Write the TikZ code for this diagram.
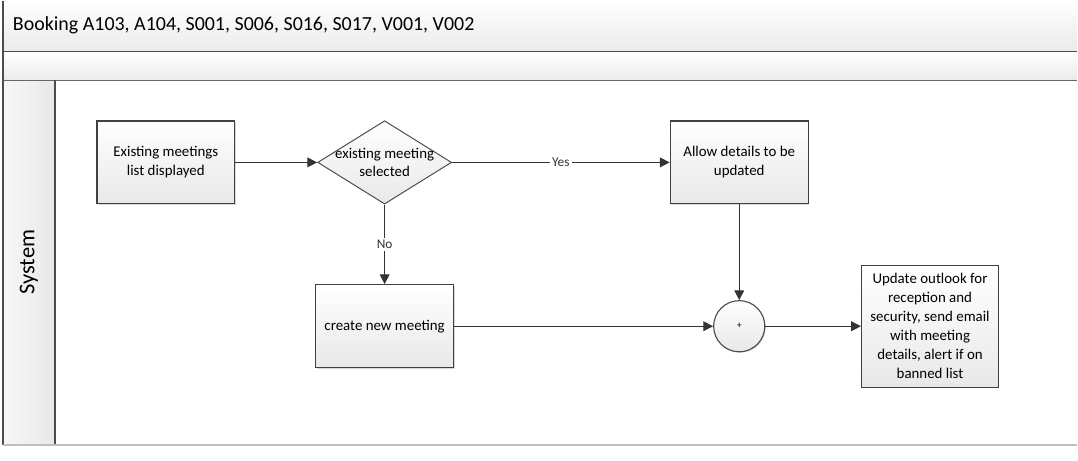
\documentclass[tikz,border=0pt]{standalone}
\usepackage{fontspec}
\setmainfont{Carlito}
\usetikzlibrary{shapes.geometric,arrows.meta,shadows}
\tikzstyle{process}=[rectangle,draw=black!75,line width=0.9pt,top color=white,bottom color=black!9,minimum width=3.45cm,minimum height=2.075cm,inner sep=2pt,align=center,font=\fontsize{10.6}{13.5}\selectfont,drop shadow={opacity=0.3,shadow xshift=0.7pt,shadow yshift=-0.7pt}]
\tikzstyle{decision}=[diamond,draw=black!70,line width=0.7pt,top color=white,bottom color=black!9,minimum width=3.35cm,minimum height=2.05cm,inner sep=-8pt,align=center,font=\fontsize{10.6}{13.5}\selectfont]
\tikzstyle{gateway}=[circle,draw=black!70,line width=0.8pt,top color=white,bottom color=black!9,minimum size=1.28cm,inner sep=0pt,font=\fontsize{7}{8}\selectfont,drop shadow={opacity=0.3,shadow xshift=0.7pt,shadow yshift=-0.7pt}]
\tikzstyle{edge} = [draw,line width=0.9pt,black!80,-{Triangle[length=7pt,width=7pt]}]
\tikzstyle{weight} = [font=\fontsize{9.5}{11}\selectfont,fill=white,inner sep=1.5pt]
\tikzstyle{band} = [top color=white,bottom color=black!8]

\begin{document}
\begin{tikzpicture}[x=0.025cm,y=-0.025cm]
        % page and pool
        \fill[white] (0,0) rectangle (1078,460);
        \shade[band] (3,0) rectangle (1078,51);
        \shade[band] (3,51) rectangle (1078,80);
        \shade[left color=black!3,right color=black!9] (3,80) rectangle (55,445);
        \draw[black!70,line width=0.8pt] (3,0) -- (3,445);
        \draw[black!70,line width=0.8pt] (3,51) -- (1078,51);
        \draw[black!60,line width=0.8pt] (3,80) -- (1078,80);
        \draw[black!70,line width=0.8pt] (55,80) -- (55,445);
        \draw[black!25,line width=1.6pt] (3,445) -- (1078,445);
        \node[anchor=west,font=\fontsize{14.2}{17}\selectfont] (title) at (8,25) {Booking A103, A104, S001, S006, S016, S017, V001, V002};
        \node[rotate=90,font=\fontsize{16}{18}\selectfont] (lane) at (29,262) {System};
        % flow
        \node[process] (list) at (166,162) {Existing meetings\\list displayed};
        \node[decision] (sel) at (385,162) {existing meeting\\selected};
        \node[process] (allow) at (740,162) {Allow details to be\\updated};
        \node[process] (create) at (385,326) {create new meeting};
        \node[gateway] (join) at (740,326) {+};
        \node[process,minimum height=3.05cm,minimum width=3.425cm] (notify) at (931,326) {Update outlook for\\reception and\\security, send email\\with meeting\\details, alert if on\\banned list};
        \path[edge] (list) -- (sel);
        \path[edge] (sel.east) -- node[weight] {Yes} (allow);
        \path[edge] (sel.south) -- node[weight] {No} (create);
        \path[edge] (allow) -- (join);
        \path[edge] (create) -- (join);
        \path[edge] (join) -- (notify);
    \end{tikzpicture}
\end{document}
